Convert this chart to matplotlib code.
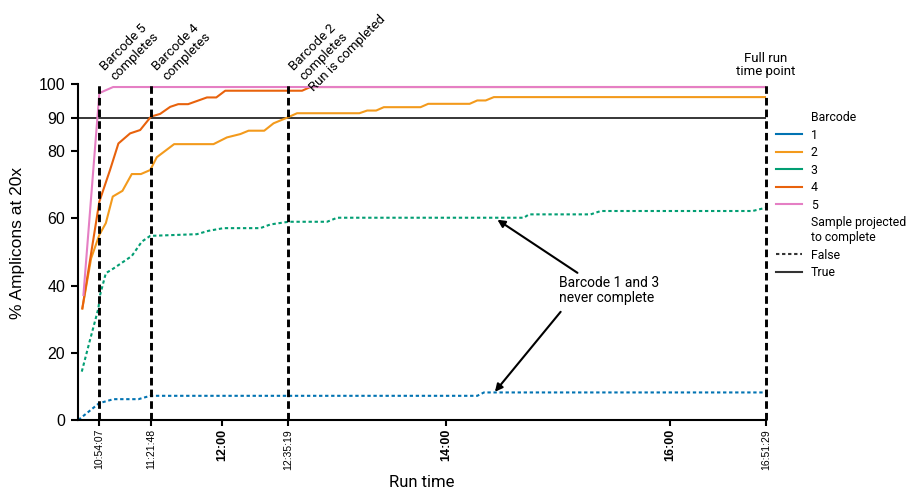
import matplotlib
matplotlib.use("Agg")
import matplotlib.pyplot as plt
from matplotlib.lines import Line2D
import pandas as pd

plt.rcParams["font.family"] = ["Liberation Sans", "DejaVu Sans"]

DAY = "2021-06-01 "


def to_time(stamps):
    return pd.to_datetime([DAY + s for s in stamps])


# % amplicons at 20x per barcode over the run (breakpoints of each curve)
bc1_times = ["10:42:50", "10:54:00", "11:01:42", "11:15:06", "11:21:24",
             "14:16:42", "14:20:18", "16:51:29"]
bc1_vals = [0.0, 5.0, 6.2, 6.2, 7.2, 7.2, 8.2, 8.2]

bc2_times = ["10:45:00", "10:49:42", "10:54:07", "10:57:36", "11:01:18",
             "11:06:30", "11:11:30", "11:16:24", "11:21:24", "11:24:54",
             "11:34:12", "11:55:18", "12:02:30", "12:09:42", "12:14:06",
             "12:22:30", "12:27:30", "12:35:19", "12:40:06", "13:13:30",
             "13:17:42", "13:22:30", "13:26:36", "13:46:18", "13:50:24",
             "14:12:36", "14:16:42", "14:21:12", "14:25:36", "16:51:29"]
bc2_vals = [33.2, 48.1, 55.1, 58.6, 66.5, 68.2, 73.2, 73.2, 74.4, 78.2,
            82.1, 82.1, 84.1, 85.1, 86.1, 86.1, 88.3, 90.1, 91.3, 91.3,
            92.1, 92.1, 93.1, 93.1, 94.1, 94.1, 95.1, 95.1, 96.1, 96.1]

bc3_times = ["10:44:42", "10:49:06", "10:53:36", "10:54:30", "10:57:36",
             "11:01:42", "11:07:00", "11:11:30", "11:16:54", "11:21:24",
             "11:46:24", "11:52:36", "12:00:42", "12:20:24", "12:25:48",
             "12:35:36", "12:56:12", "13:01:36", "14:41:42", "14:44:24",
             "15:17:30", "15:22:54", "16:44:18", "16:51:29"]
bc3_vals = [14.4, 23.8, 33.2, 37.2, 43.7, 45.1, 47.1, 48.8, 53.1, 54.8,
            55.3, 56.3, 57.1, 57.1, 58.2, 59.0, 59.0, 60.2, 60.2, 61.2,
            61.2, 62.2, 62.2, 63.2]

bc4_times = ["10:45:00", "10:54:07", "10:59:50", "11:04:20", "11:10:36",
             "11:16:00", "11:21:48", "11:26:42", "11:32:06", "11:36:24",
             "11:41:42", "11:51:48", "11:56:48", "12:01:36", "12:42:48",
             "12:47:12", "16:51:29"]
bc4_vals = [33.2, 65.0, 74.4, 82.3, 85.3, 86.3, 90.3, 91.1, 93.2, 94.0,
            94.0, 96.0, 96.0, 98.0, 98.0, 99.1, 99.1]

bc5_times = ["10:45:35", "10:54:07", "11:01:30", "16:51:29"]
bc5_vals = [37.2, 97.3, 99.1, 99.1]

barcodes = ["1", "2", "3", "4", "5"]
projected = [False, True, False, True, True]
colors = ["#0173b2", "#f39a1c", "#029e73", "#e8620c", "#e57fc4"]
series = [(bc1_times, bc1_vals), (bc2_times, bc2_vals), (bc3_times, bc3_vals),
          (bc4_times, bc4_vals), (bc5_times, bc5_vals)]

threshold = 90
run_start = "10:42:50"
run_end = "16:51:29"

event_times = ["10:54:07", "11:21:48", "12:35:19"]
event_labels = ["Barcode 5\ncompletes", "Barcode 4\ncompletes",
                "Barcode 2\ncompletes\nRun is completed"]

xtick_times = ["10:54:07", "11:21:48", "12:00:00", "12:35:19",
               "14:00:00", "16:00:00", "16:51:29"]
xtick_labels = ["10:54:07", "11:21:48", "12:00", "12:35:19",
                "14:00", "16:00", "16:51:29"]
ytick_vals = [0, 20, 40, 60, 80, 90, 100]

fig = plt.figure(figsize=(9.09, 4.93), dpi=100)
ax = fig.add_axes([78.3 / 909, 1 - 420 / 493, (766 - 78.3) / 909, (420 - 84) / 493])

dotted = (0, (1.6, 1.3))
for (t, v), c, proj in zip(series, colors, projected):
    ax.plot(to_time(t), v, color=c, lw=1.5,
            linestyle="-" if proj else dotted, zorder=2)

ax.axhline(threshold, color="black", lw=1.1, zorder=1.5)

line_times = to_time(event_times + [run_end])
ax.vlines(line_times, 0, 100, colors="black", lw=2.1,
          linestyles=[(0, (2.6, 1.4))], zorder=3, clip_on=False)

for t, lab in zip(to_time(event_times), event_labels):
    ax.annotate(lab, xy=(t, 100), xytext=(-1, 14.5), textcoords="offset points",
                rotation=45, rotation_mode="anchor", ha="left", va="top",
                fontsize=9.5, family="Roboto", linespacing=1.15,
                annotation_clip=False)

ax.annotate("Full run\ntime point", xy=(to_time([run_end])[0], 100),
            xytext=(0, 13.5), textcoords="offset points", ha="center",
            va="center", fontsize=9.5, family="Roboto", linespacing=1.05,
            annotation_clip=False)

# pointers to the two barcodes that never reach the threshold
arrow = dict(arrowstyle="-|>", color="black", lw=1.5, mutation_scale=11,
             shrinkA=0, shrinkB=0)
ax.annotate("", xy=(to_time(["14:27:30"])[0], 59.6),
            xytext=(to_time(["15:10:24"])[0], 43.8), arrowprops=arrow)
ax.annotate("", xy=(to_time(["14:26:10"])[0], 8.4),
            xytext=(to_time(["15:01:24"])[0], 32.2), arrowprops=arrow)
ax.text(to_time(["15:00:30"])[0], 38.6, "Barcode 1 and 3\nnever complete",
        ha="left", va="center", fontsize=10, family="Roboto", linespacing=1.05)

ax.set_xlim(to_time([run_start])[0], to_time([run_end])[0])
ax.set_ylim(0, 100)

ax.set_xticks(to_time(xtick_times))
ax.set_xticklabels(xtick_labels, rotation=90)
for lab in ax.get_xticklabels():
    if len(lab.get_text()) == 5:
        lab.set_fontsize(9)
        lab.set_fontweight("bold")
    else:
        lab.set_fontsize(7.5)
ax.set_yticks(ytick_vals)
ax.tick_params(axis="y", length=5, width=1.5, labelsize=11.5, pad=4.5)
ax.tick_params(axis="x", length=4.3, width=1.5, pad=2)

for side in ["top", "right"]:
    ax.spines[side].set_visible(False)
for side in ["left", "bottom"]:
    ax.spines[side].set_linewidth(1.5)

ax.set_xlabel("Run time", fontsize=12, family="Roboto")
ax.set_ylabel("% Amplicons at 20x", fontsize=12.5)
ax.yaxis.set_label_coords(-0.078, 0.528)

blank = Line2D([], [], linestyle="none")
handles = [blank] + [Line2D([], [], color=c, lw=1.5) for c in colors]
handles += [blank, Line2D([], [], color="#333333", lw=1.5, linestyle=dotted),
            Line2D([], [], color="#333333", lw=1.5)]
labels = ["Barcode"] + barcodes + ["Sample projected\nto complete", "False", "True"]
fig.legend(handles, labels, loc="upper left", bbox_to_anchor=(0.8415, 0.797),
           frameon=False, prop={"family": "Roboto", "size": 8.8},
           handlelength=2.1, handletextpad=0.75, labelspacing=0.37,
           borderpad=0.4)

fig.savefig("out.png", dpi=100)
